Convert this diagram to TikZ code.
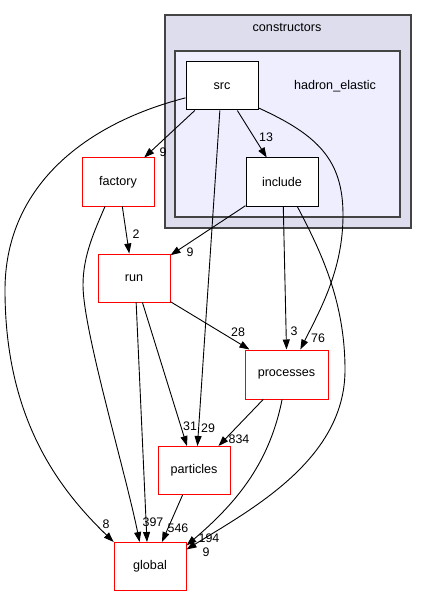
\documentclass[tikz,border=0pt]{standalone}
\usepackage{fontspec}
\setmainfont{Liberation Sans}
\usetikzlibrary{arrows.meta}
\definecolor{outerfill}{HTML}{DDDDEE}
\definecolor{innerfill}{HTML}{EEEEFF}
\definecolor{clusterline}{HTML}{444444}
\begin{document}
\begin{tikzpicture}[x=1pt,y=-1pt,
  box/.style={draw=black, fill=white, line width=1pt, minimum width=72pt, minimum height=48pt, inner sep=0pt, font=\fontsize{12.6}{14}\selectfont},
  redbox/.style={box, draw=red},
  edge/.style={line width=0.9pt, -{Triangle[length=10pt,width=7pt]}},
  lab/.style={font=\fontsize{12.4}{14}\selectfont, inner sep=0pt},
  cluster/.style={draw=clusterline, line width=1.5pt},
  ]
\useasboundingbox (0,0) rectangle (427,596);
% clusters
\draw[cluster, fill=outerfill] (165,15) rectangle (411,228);
\node[lab, font=\fontsize{12.6}{14}\selectfont] (tconstructors) at (287,27) {constructors};
\draw[cluster, fill=innerfill] (175,51) rectangle (400,217);
\node[lab, font=\fontsize{12.6}{14}\selectfont] (thadron) at (335,86) {hadron\_elastic};
% nodes
\node[box] (src) at (222,86) {src};
\node[box] (include) at (282,182) {include};
\node[redbox] (factory) at (118,182) {factory};
\node[redbox] (run) at (134,278) {run};
\node[redbox, minimum width=83pt, minimum height=49pt] (processes) at (286.5,374.5) {processes};
\node[redbox] (particles) at (194,470.5) {particles};
\node[redbox] (global) at (150,566.5) {global};
% edges
\draw[edge] (src.222.7) -- (factory.43.8);
\node[lab] (l1) at (163,152) {9};
\draw[edge] (src.302) -- (include.122);
\node[lab] (l2) at (266,137) {13};
\draw[edge] (src.198.4) .. controls (80,125) and (5,190) .. (5,290) .. controls (5,420) and (60,490) .. (global.146.1);
\node[lab] (l3) at (106,524) {8};
\draw[edge] (src.265) -- (particles.82.7);
\node[lab] (l4) at (208,428) {29};
\draw[edge] (src.329.7) .. controls (318,135) and (343,160) .. (343,215) .. controls (343,270) and (320,310) .. (processes.61.1);
\node[lab] (l5) at (318,338) {76};
\draw[edge] (factory.-80.5) -- (run.101.8);
\node[lab] (l6) at (136,234) {2};
\draw[edge] (factory.-118.4) .. controls (95,230) and (83,255) .. (83,285) .. controls (83,330) and (125,470) .. (global.113);
\draw[edge] (include.-147.4) -- (run.32.6);
\node[lab] (l7) at (190,252) {9};
\draw[edge] (include.-87.6) -- (processes.90);
\node[lab] (l8) at (294,331) {3};
\draw[edge] (include.-58) .. controls (320,250) and (345,300) .. (345,370) .. controls (345,460) and (250,510) .. (global.25.9);
\node[lab] (l9) at (206,552) {9};
\draw[edge] (run.-33.7) -- (processes.146.8);
\node[lab] (l10) at (238,332) {28};
\draw[edge] (run.-71.6) -- (particles.106.6);
\node[lab] (l11) at (190,426) {31};
\draw[edge] (run.-85.2) -- (global.97.3);
\node[lab] (l12) at (153,522) {397};
\draw[edge] (processes.-133.8) -- (particles.45.6);
\node[lab] (l13) at (239,439) {834};
\draw[edge] (processes.-100.4) .. controls (270,460) and (240,500) .. (global.30.3);
\node[lab] (l14) at (209,538) {194};
\draw[edge] (particles.-115.1) -- (global.64.9);
\node[lab] (l15) at (178,528) {546};
\end{tikzpicture}
\end{document}
